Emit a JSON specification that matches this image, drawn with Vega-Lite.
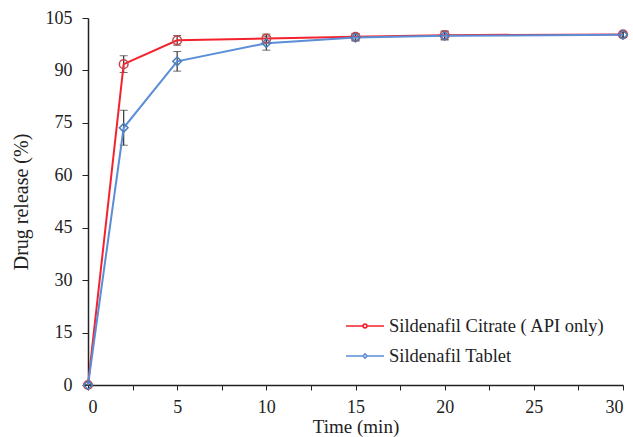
{
  "$schema": "https://vega.github.io/schema/vega-lite/v6.json",
  "width": 535,
  "height": 367,
  "autosize": {"type": "none"},
  "padding": {"left": 88, "top": 18, "right": 10, "bottom": 52},
  "background": "white",
  "config": {
    "view": {"stroke": null},
    "font": "Liberation Serif",
    "axis": {"grid": false, "domainColor": "#222", "tickColor": "#222", "domainWidth": 1.5, "labelColor": "#222", "titleColor": "#222", "labelFont": "Liberation Serif", "titleFont": "Liberation Serif", "labelFontSize": 18, "titleFontSize": 20, "titleFontWeight": "normal"},
    "legend": {"labelFont": "Liberation Serif", "labelFontSize": 18.5, "labelColor": "#222", "labelLimit": 0}
  },
  "data": {
    "values": [
      {"time": 0, "release": 0, "err": 0, "series": "Sildenafil Citrate ( API only)", "marker": "Citrate"},
      {"time": 2, "release": 91.8, "err": 2.4, "series": "Sildenafil Citrate ( API only)", "marker": "Citrate"},
      {"time": 5, "release": 98.6, "err": 1.4, "series": "Sildenafil Citrate ( API only)", "marker": "Citrate"},
      {"time": 10, "release": 99.1, "err": 1.3, "series": "Sildenafil Citrate ( API only)", "marker": "Citrate"},
      {"time": 15, "release": 99.6, "err": 1.0, "series": "Sildenafil Citrate ( API only)", "marker": "Citrate"},
      {"time": 20, "release": 100.1, "err": 1.2, "series": "Sildenafil Citrate ( API only)", "marker": "Citrate"},
      {"time": 30, "release": 100.3, "err": 0.8, "series": "Sildenafil Citrate ( API only)", "marker": "Citrate"},
      {"time": 0, "release": 0, "err": 0, "series": "Sildenafil Tablet", "marker": "Tablet"},
      {"time": 2, "release": 73.6, "err": 5.0, "series": "Sildenafil Tablet", "marker": "Tablet"},
      {"time": 5, "release": 92.6, "err": 2.8, "series": "Sildenafil Tablet", "marker": "Tablet"},
      {"time": 10, "release": 97.8, "err": 2.0, "series": "Sildenafil Tablet", "marker": "Tablet"},
      {"time": 15, "release": 99.4, "err": 1.0, "series": "Sildenafil Tablet", "marker": "Tablet"},
      {"time": 20, "release": 99.9, "err": 1.2, "series": "Sildenafil Tablet", "marker": "Tablet"},
      {"time": 30, "release": 100.2, "err": 0.8, "series": "Sildenafil Tablet", "marker": "Tablet"}
    ]
  },
  "layer": [
    {
      "mark": {"type": "errorbar", "ticks": {"size": 8, "color": "#333"}, "rule": {"color": "#333", "strokeWidth": 1.2}},
      "encoding": {
        "x": {"field": "time", "type": "quantitative", "title": "Time (min)"},
        "y": {"field": "release", "type": "quantitative", "title": "Drug release (%)"},
        "yError": {"field": "err"}
      }
    },
    {
      "mark": {"type": "line", "strokeWidth": 2},
      "encoding": {
        "x": {"field": "time", "type": "quantitative", "scale": {"domain": [0, 30], "nice": false},
          "axis": {"title": "Time (min)", "values": [0, 2.5, 5, 7.5, 10, 12.5, 15, 17.5, 20, 22.5, 25, 27.5, 30], "labelExpr": "datum.value % 5 === 0 ? datum.label : ''", "tickSize": 5, "labelPadding": 8, "titlePadding": 1, "titleFontSize": 19}},
        "y": {"field": "release", "type": "quantitative", "scale": {"domain": [0, 105], "nice": false},
          "axis": {"title": "Drug release (%)", "values": [0, 15, 30, 45, 60, 75, 90, 105], "tickSize": 6, "labelPadding": 10, "titlePadding": 14}},
        "color": {"field": "series", "type": "nominal",
          "scale": {"domain": ["Sildenafil Citrate ( API only)", "Sildenafil Tablet"], "range": ["#f5222d", "#5b8ed6"]},
          "legend": {
            "title": null, "orient": "none", "legendX": 257, "legendY": 288,
            "symbolSize": 1444, "symbolStrokeWidth": 1.6, "rowPadding": -5, "labelOffset": 4,
            "symbolType": "M -1 0 L 1 0",
            "encode": {"symbols": {"update": {
              "shape": {"signal": "datum.value === 'Sildenafil Tablet' ? 'M -1 0 L -0.11 0 M 0.11 0 L 1 0 M -0.11 0 L 0 -0.11 L 0.11 0 L 0 0.11 Z' : 'M -1 0 L -0.1 0 M 0.1 0 L 1 0 M -0.1 0 A 0.1 0.1 0 1 0 0.1 0 A 0.1 0.1 0 1 0 -0.1 0'"},
              "fill": {"value": "transparent"}
            }}}
          }}
      }
    },
    {
      "mark": {"type": "point", "filled": false, "size": 75, "strokeWidth": 1.5, "opacity": 1},
      "encoding": {
        "x": {"field": "time", "type": "quantitative", "title": "Time (min)"},
        "y": {"field": "release", "type": "quantitative", "title": "Drug release (%)"},
        "stroke": {"field": "marker", "type": "nominal", "scale": {"domain": ["Citrate", "Tablet"], "range": ["#c8454a", "#4a7ebb"]}, "legend": null},
        "shape": {"field": "marker", "type": "nominal", "scale": {"domain": ["Citrate", "Tablet"], "range": ["circle", "diamond"]}, "legend": null}
      }
    }
  ]
}
